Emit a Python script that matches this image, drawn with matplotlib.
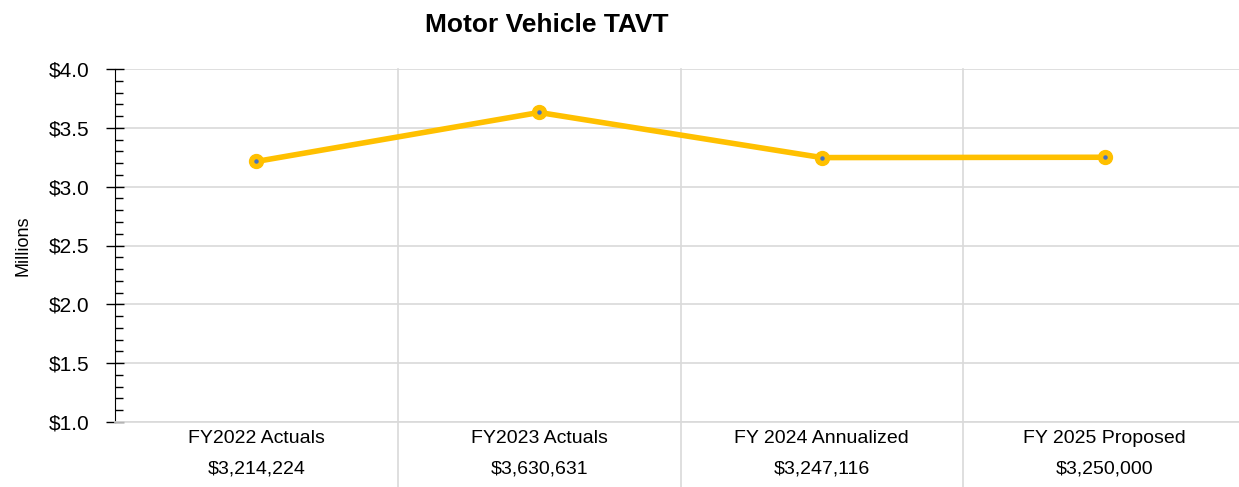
import matplotlib.pyplot as plt
from matplotlib.ticker import MultipleLocator, FuncFormatter

plt.rcParams['font.family'] = ['Liberation Sans', 'DejaVu Sans']

categories = ['FY2022 Actuals', 'FY2023 Actuals', 'FY 2024 Annualized', 'FY 2025 Proposed']
values = [3214224, 3630631, 3247116, 3250000]

LINE = '#FFC000'

fig = plt.figure(figsize=(12.39, 4.87), dpi=100)
ax = fig.add_axes([115 / 1239, 65 / 487, 1131 / 1239, 353 / 487])

x = range(len(categories))
y = [v / 1e6 for v in values]
ax.plot(x, y, color=LINE, lw=4, zorder=3, solid_capstyle='round')
ax.plot(x, y, ls='none', marker='o', ms=10, mfc=LINE, mec=LINE, zorder=4)
ax.plot(x, y, ls='none', marker='o', ms=2.2, mfc='#4472C4', mec='#4472C4', zorder=5)

ax.set_xlim(-0.5, len(categories) - 0.5)
ax.set_ylim(1.0, 4.0)
ax.yaxis.set_major_locator(MultipleLocator(0.5))
ax.yaxis.set_minor_locator(MultipleLocator(0.1))
ax.yaxis.set_major_formatter(FuncFormatter(lambda v, p: f'${v:.1f}'))
ax.tick_params(axis='y', which='major', direction='inout', length=13, width=1,
               labelsize=15, pad=12)
ax.tick_params(axis='y', which='minor', direction='in', length=6, width=1)
ax.grid(axis='y', color='#d9d9d9', lw=1.2)

# category labels with values below
ax.set_xticks(list(x))
ax.set_xticklabels([f'{c}\n${v:,}' for c, v in zip(categories, values)],
                   fontsize=14, linespacing=2.0)
ax.tick_params(axis='x', length=0, pad=6)

# separators between categories, running down through the label area
for b in [0.5, 1.5, 2.5]:
    ax.axvline(b, ymin=-0.2, ymax=1, color='#d9d9d9', lw=1.2, clip_on=False, zorder=0)

for s in ['top', 'right']:
    ax.spines[s].set_visible(False)
ax.spines['bottom'].set_color('#d9d9d9')
ax.spines['bottom'].set_linewidth(1.2)
ax.spines['left'].set_color('black')

ax.set_ylabel('Millions', fontsize=13, labelpad=12)
fig.text(547 / 1239, 1 - 25 / 487, 'Motor Vehicle TAVT', ha='center', va='center',
         fontsize=19, fontweight='bold')

fig.savefig('out.png', dpi=100)
